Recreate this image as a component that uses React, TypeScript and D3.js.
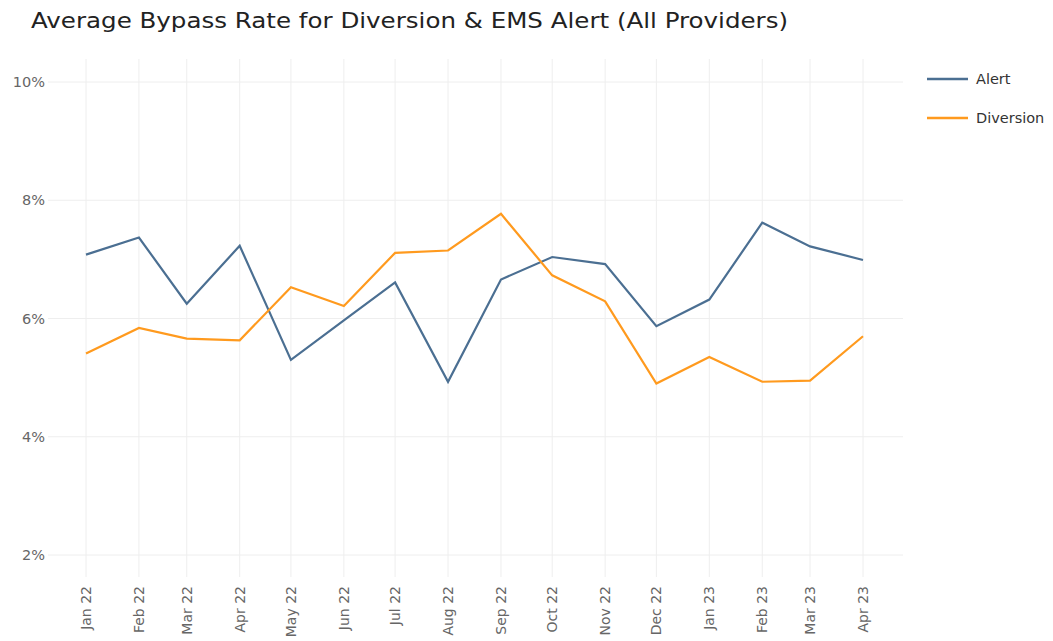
import React from "react";
import * as d3 from "d3";

const months = [
  "2022-01-01", "2022-02-01", "2022-03-01", "2022-04-01", "2022-05-01", "2022-06-01",
  "2022-07-01", "2022-08-01", "2022-09-01", "2022-10-01", "2022-11-01", "2022-12-01",
  "2023-01-01", "2023-02-01", "2023-03-01", "2023-04-01",
];
const monthLabels = [
  "Jan 22", "Feb 22", "Mar 22", "Apr 22", "May 22", "Jun 22", "Jul 22", "Aug 22",
  "Sep 22", "Oct 22", "Nov 22", "Dec 22", "Jan 23", "Feb 23", "Mar 23", "Apr 23",
];
const alertValues = [7.08, 7.37, 6.25, 7.23, 5.30, 5.97, 6.61, 4.93, 6.66, 7.04, 6.92, 5.87, 6.32, 7.62, 7.22, 6.99];
const diversionValues = [5.41, 5.84, 5.66, 5.63, 6.53, 6.21, 7.11, 7.15, 7.77, 6.73, 6.29, 4.90, 5.35, 4.93, 4.95, 5.70];
const yTicks = [2, 4, 6, 8, 10];
const seriesNames = ["Alert", "Diversion"];
const seriesColors = ["#4b6f92", "#ff9a1e"];

const W = 1053;
const H = 641;
const plot = { left: 48, right: 903, top: 59, bottom: 577 };

export default function App() {
  const dates = months.map((m) => new Date(m + "T00:00:00"));
  const x = d3.scaleTime().domain([dates[0], dates[dates.length - 1]]).range([86, 863]);
  const y = d3.scaleLinear().domain([2, 10]).range([555, 82]);
  const line = d3
    .line<number>()
    .x((_, i) => x(dates[i]))
    .y((v) => y(v));
  const series = [alertValues, diversionValues];
  const font = "'DejaVu Sans', Verdana, sans-serif";

  return (
    <svg
      width={W}
      height={H}
      style={{ position: "absolute", left: 0, top: 0, background: "#fff" }}
    >
      <text x={31} y={28} fontSize={21} fill="#222" fontFamily={font} textLength={757} lengthAdjust="spacingAndGlyphs">
        Average Bypass Rate for Diversion &amp; EMS Alert (All Providers)
      </text>
      {yTicks.map((t) => (
        <g key={"y" + t}>
          <line x1={plot.left} x2={plot.right} y1={y(t)} y2={y(t)} stroke="#eeeeee" strokeWidth={1} />
          <text x={45} y={y(t)} dy="0.35em" textAnchor="end" fontSize={14.5} fill="#666" fontFamily={font}>
            {t}%
          </text>
        </g>
      ))}
      {dates.map((d, i) => (
        <g key={"x" + i}>
          <line x1={x(d)} x2={x(d)} y1={plot.top} y2={plot.bottom} stroke="#eeeeee" strokeWidth={1} />
          <text
            transform={`translate(${x(d)},${plot.bottom + 9}) rotate(-90)`}
            textAnchor="end"
            dy="0.35em"
            fontSize={14}
            fill="#666"
            fontFamily={font}
          >
            {monthLabels[i]}
          </text>
        </g>
      ))}
      {series.map((s, k) => (
        <path key={"s" + k} d={line(s) || ""} fill="none" stroke={seriesColors[k]} strokeWidth={2.2} strokeLinejoin="miter" />
      ))}
      {seriesNames.map((n, k) => (
        <g key={"l" + k} transform={`translate(927,${79 + k * 39})`}>
          <line x1={0} x2={41} y1={0} y2={0} stroke={seriesColors[k]} strokeWidth={2.5} />
          <text x={49} y={0} dy="0.35em" fontSize={14.5} fill="#333" fontFamily={font}>
            {n}
          </text>
        </g>
      ))}
    </svg>
  );
}
